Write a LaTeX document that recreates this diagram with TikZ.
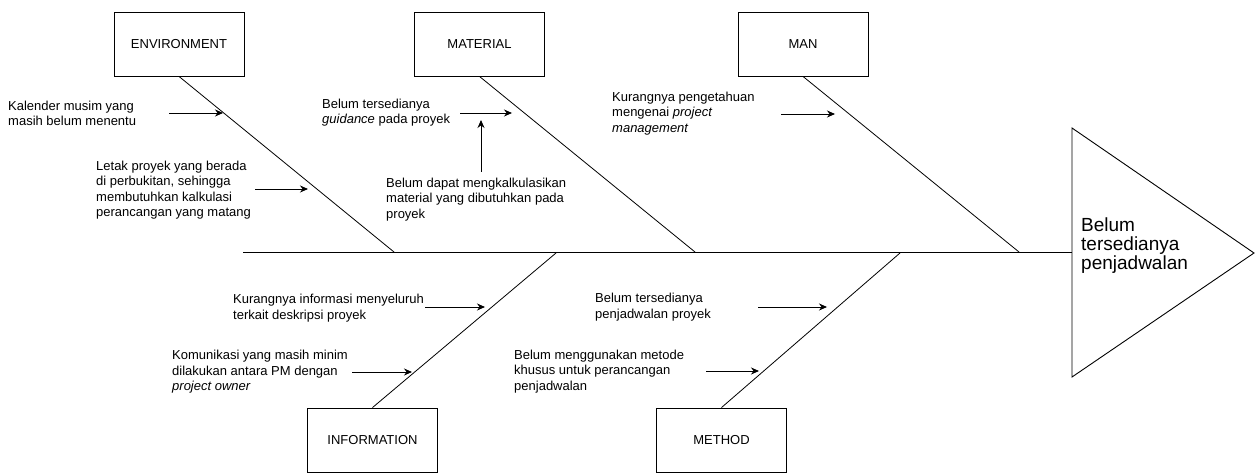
\documentclass[tikz,border=0pt]{standalone}
\usepackage{fontspec}
\setmainfont{Liberation Sans}
\usetikzlibrary{arrows.meta}
\begin{document}
\begin{tikzpicture}[x=1pt,y=-1pt,
  catbox/.style={draw, line width=0.9pt, minimum width=130pt, minimum height=64pt, inner sep=0pt, font=\fontsize{13}{15.5}\selectfont},
  lbl/.style={align=left, inner sep=0pt, anchor=west, font=\fontsize{13}{15.5}\selectfont},
  bone/.style={line width=0.8pt},
  arr/.style={line width=0.9pt, -{Stealth[length=8pt,width=7pt]}}]
\useasboundingbox (0,0) rectangle (1257,473);
% category boxes
\node[catbox] (env) at (179,44) {ENVIRONMENT};
\node[catbox] (mat) at (479.5,44) {MATERIAL};
\node[catbox] (man) at (803,44) {MAN};
\node[catbox] (inf) at (372.5,440) {INFORMATION};
\node[catbox] (met) at (721.5,440) {METHOD};
% head
\coordinate (ht) at (1072,128);
\coordinate (hb) at (1072,377);
\coordinate (hp) at (1254,253);
\coordinate (head) at (1072,252);
\draw[line width=0.9pt] (ht) -- (hp) -- (hb) -- cycle;
\node[align=left, inner sep=0pt, anchor=west, font=\fontsize{19}{19}\selectfont] (effect) at (1081,246) {Belum\\tersedianya\\penjadwalan};
% spine
\coordinate (tail) at (243,252);
\draw[line width=1pt] (tail) -- (head);
% bones
\coordinate (b1) at (394,252);
\coordinate (b2) at (695,252);
\coordinate (b3) at (1019,252);
\coordinate (b4) at (556,253);
\coordinate (b5) at (900,253);
\draw[bone] (env.south) -- (b1);
\draw[bone] (mat.south) -- (b2);
\draw[bone] (man.south) -- (b3);
\draw[bone] (inf.north) -- (b4);
\draw[bone] (met.north) -- (b5);
% labels
\node[lbl] (t1) at (8,113.5) {Kalender musim yang\\masih belum menentu};
\node[lbl] (t2) at (96,190) {Letak proyek yang berada\\di perbukitan, sehingga\\membutuhkan kalkulasi\\perancangan yang matang};
\node[lbl] (t3) at (322,112.5) {Belum tersedianya\\\textit{guidance} pada proyek};
\node[lbl] (t4) at (386,199.5) {Belum dapat mengkalkulasikan\\material yang dibutuhkan pada\\proyek};
\node[lbl] (t5) at (612,113.5) {Kurangnya pengetahuan\\mengenai \textit{project}\\\textit{management}};
\node[lbl] (t6) at (233,308) {Kurangnya informasi menyeluruh\\terkait deskripsi proyek};
\node[lbl] (t7) at (172,372) {Komunikasi yang masih minim\\dilakukan antara PM dengan\\\textit{project owner}};
\node[lbl] (t8) at (595,307) {Belum tersedianya\\penjadwalan proyek};
\node[lbl] (t9) at (514,371.5) {Belum menggunakan metode\\khusus untuk perancangan\\penjadwalan};
% arrows
\coordinate (a1s) at (169,113); \coordinate (a1e) at (223,113);
\coordinate (a2s) at (255,189); \coordinate (a2e) at (308,189);
\coordinate (a3s) at (460,113); \coordinate (a3e) at (512,113);
\coordinate (a4s) at (481,172); \coordinate (a4e) at (481,120);
\coordinate (a5s) at (781,114); \coordinate (a5e) at (835,114);
\coordinate (a6s) at (425,307); \coordinate (a6e) at (485,307);
\coordinate (a7s) at (352,372); \coordinate (a7e) at (412,372);
\coordinate (a8s) at (758,307); \coordinate (a8e) at (827,307);
\coordinate (a9s) at (706,371); \coordinate (a9e) at (759,371);
\foreach \i in {1,...,9} {\draw[arr] (a\i s) -- (a\i e);}
\end{tikzpicture}
\end{document}
